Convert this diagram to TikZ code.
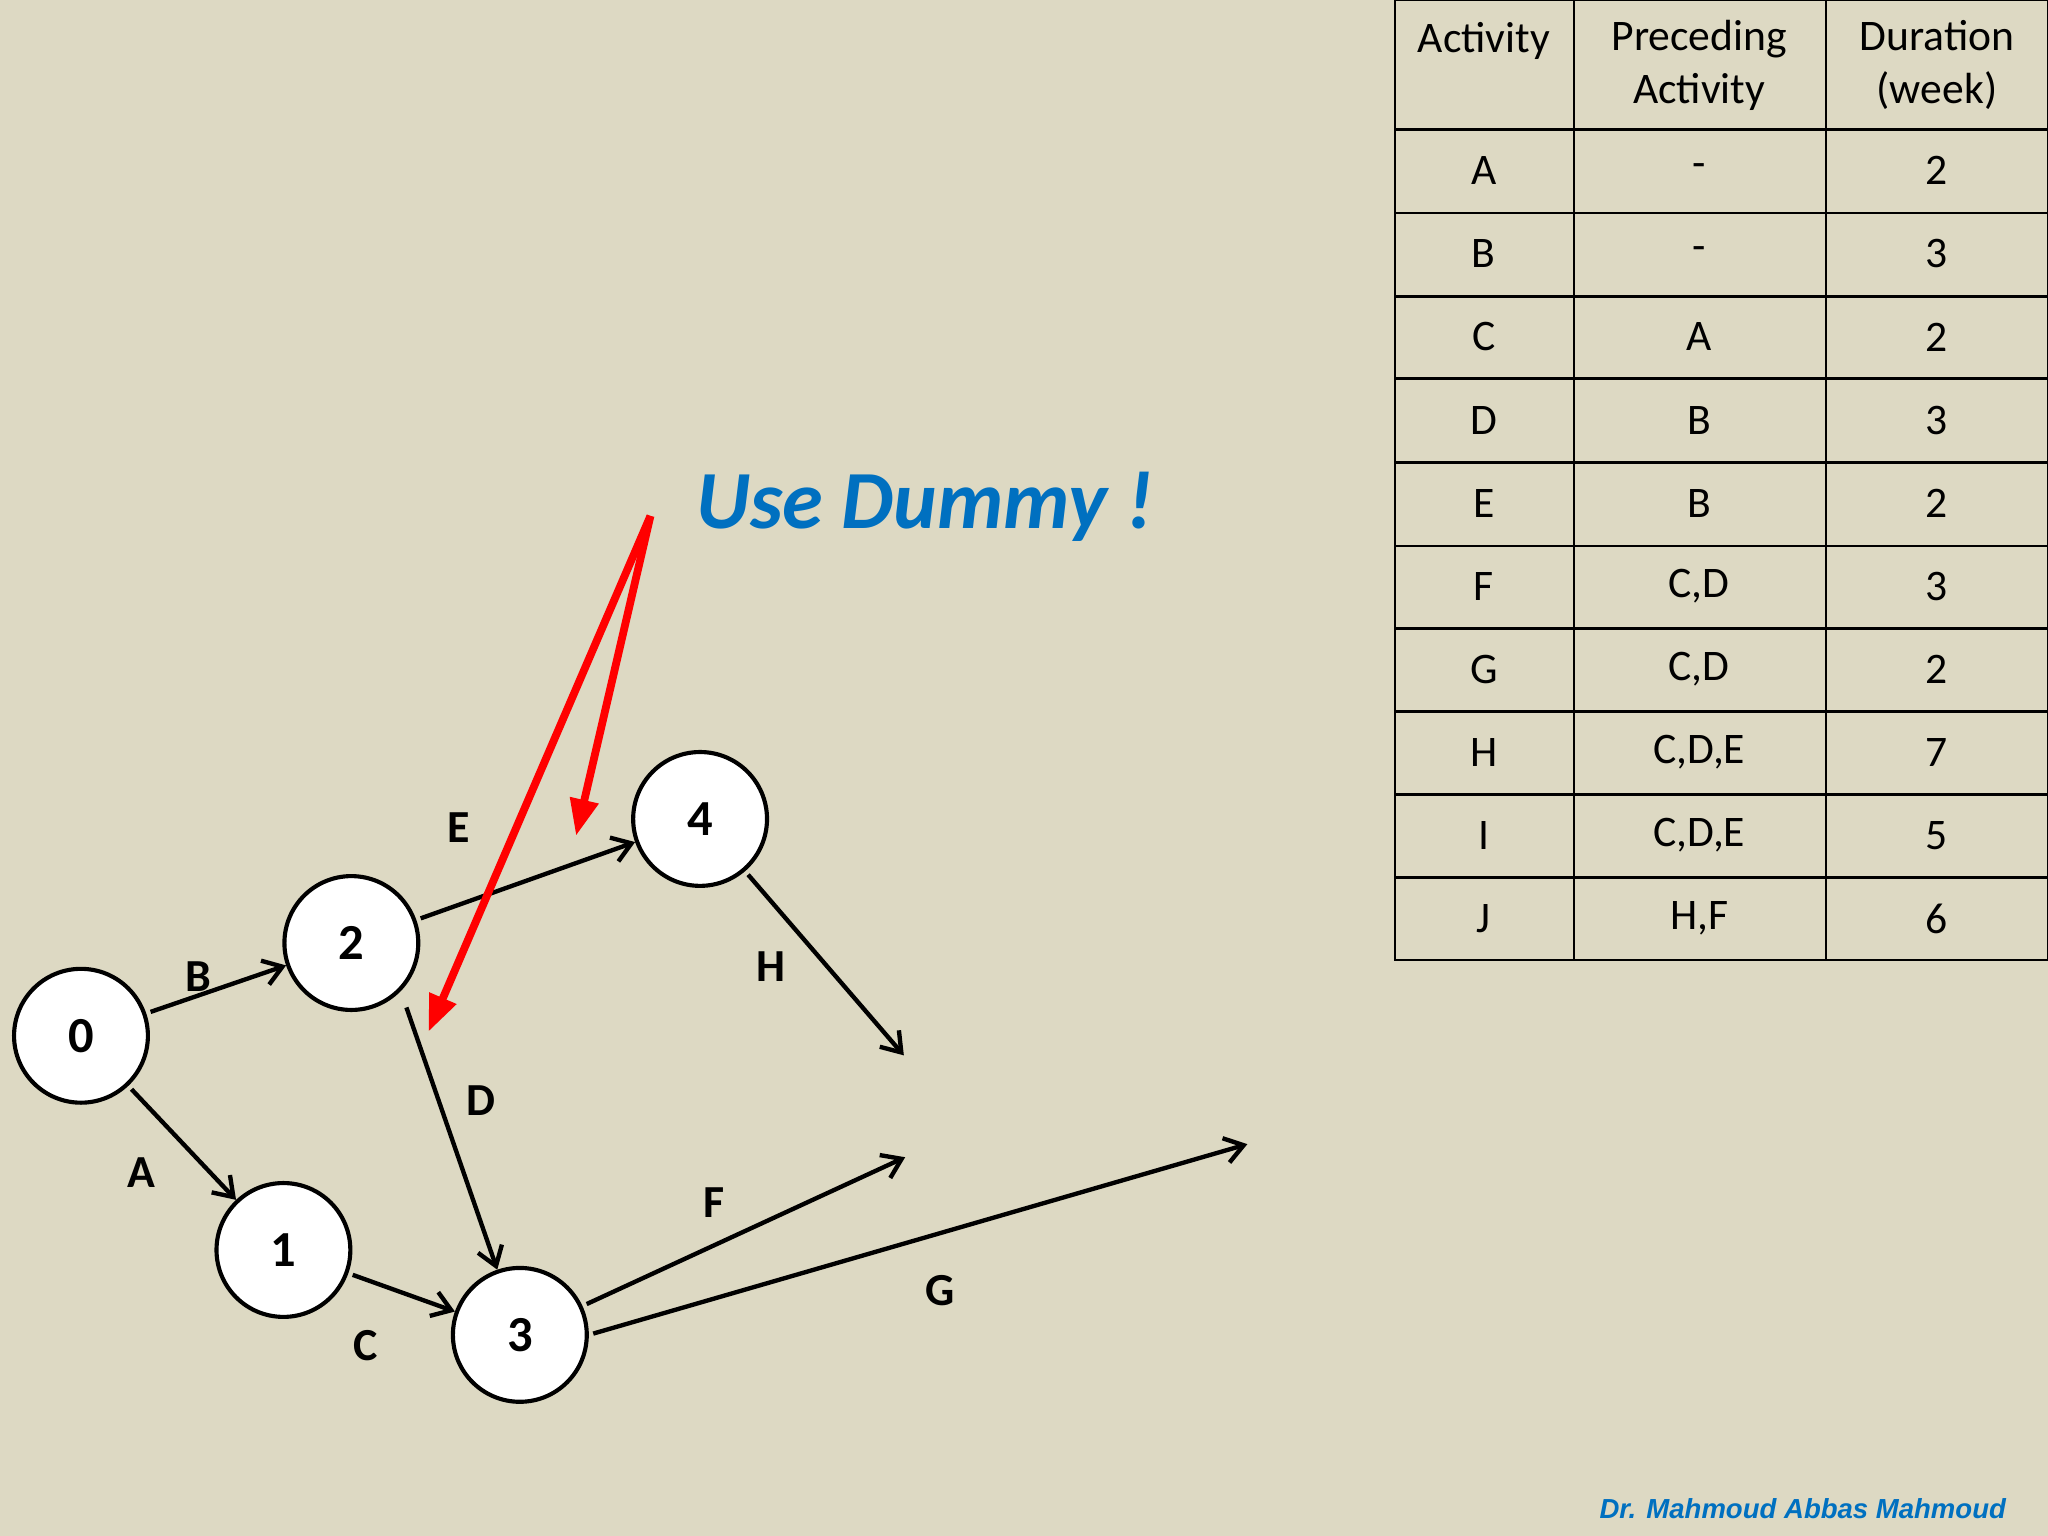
\documentclass[tikz,border=0pt]{standalone}
\usepackage{fontspec}
\setmainfont{Carlito}
\newfontfamily\arialf{Liberation Sans}
\usetikzlibrary{arrows.meta}
\definecolor{bg}{HTML}{DDD9C3}
\definecolor{dblue}{HTML}{0070C0}
\begin{document}
\begin{tikzpicture}[x=0.02cm,y=-0.02cm,
  ev/.style={circle,draw,fill=white,line width=1.8pt,minimum size=2.05cm,inner sep=0pt,font=\fontsize{22}{26}\selectfont\bfseries},
  act/.style={-{Straight Barb[length=8pt,width=11pt]},line width=1.9pt,shorten <=2pt},
  lab/.style={font=\fontsize{20}{24}\selectfont\bfseries},
  dum/.style={-{Triangle[length=16pt,width=12pt]},line width=3.4pt,red},
  cell/.style={font=\fontsize{19}{23}\selectfont,align=center}]
\fill[bg] (0,0) rectangle (1568,1176);
\useasboundingbox (0,0) rectangle (1568,1176);
\node[ev] (n0) at (62,793) {0};
\node[ev] (n2) at (269,722) {2};
\node[ev] (n4) at (536,627) {4};
\node[ev] (n1) at (217,957) {1};
\node[ev] (n3) at (398,1022) {3};
\coordinate (eH) at (692,808);
\coordinate (eF) at (693,886);
\coordinate (eG) at (955,876);
\draw[act] (n0) -- (n2);
\draw[act] (n0) -- (n1);
\draw[act] (n1) -- (n3);
\draw[act] (310,768) -- (n3);
\draw[act] (n2) -- (n4);
\draw[act] (n4) -- (eH);
\draw[act] (n3) -- (eF);
\draw[act] (n3.east) -- (eG);
\node[lab] at (152,748) {B};
\node[lab] at (108,898) {A};
\node[lab] at (280,1030) {C};
\node[lab] at (368,843) {D};
\node[lab] at (351,634) {E};
\node[lab] at (590,740) {H};
\node[lab] at (547,921) {F};
\node[lab] at (720,988) {G};
\coordinate (ds) at (498,395);
\coordinate (d1) at (441,640);
\coordinate (d2) at (328,790);
\draw[dum] (ds) -- (d1);
\draw[dum] (ds) -- (d2);
\node[font=\fontsize{36}{40}\selectfont\bfseries\itshape,text=dblue] (ud) at (708,388) {Use Dummy !};
% table
\draw[line width=1.2pt] (1068,0) rectangle (1568,735);
\foreach \x in {1205,1398} \draw[line width=1.2pt] (\x,0) -- (\x,735);
\foreach \y in {99,163,227,290,354,418,481,545,608,672} \draw[line width=1.2pt] (1068,\y) -- (1568,\y);
\node[cell] at (1136,31) {Activity};
\node[cell] at (1301,50) {Preceding\\Activity};
\node[cell] at (1483,50) {Duration\\(week)};
\foreach \a/\p/\d [count=\i] in {A/-/2,B/-/3,C/A/2,D/B/3,E/B/2,F/{C,D}/3,G/{C,D}/2,H/{C,D,E}/7,I/{C,D,E}/5,J/{H,F}/6}{
  \pgfmathsetmacro\yy{99+(\i-0.5)*63.6}
  \node[cell] at (1136,\yy) {\a};
  \node[cell] at (1301,\yy) {\p};
  \node[cell] at (1483,\yy) {\d};
}
\node[anchor=east,font=\arialf\fontsize{12}{14}\selectfont\bfseries\itshape,text=dblue] (ft) at (1542,1155) {Dr. Mahmoud Abbas Mahmoud};
\end{tikzpicture}
\end{document}
